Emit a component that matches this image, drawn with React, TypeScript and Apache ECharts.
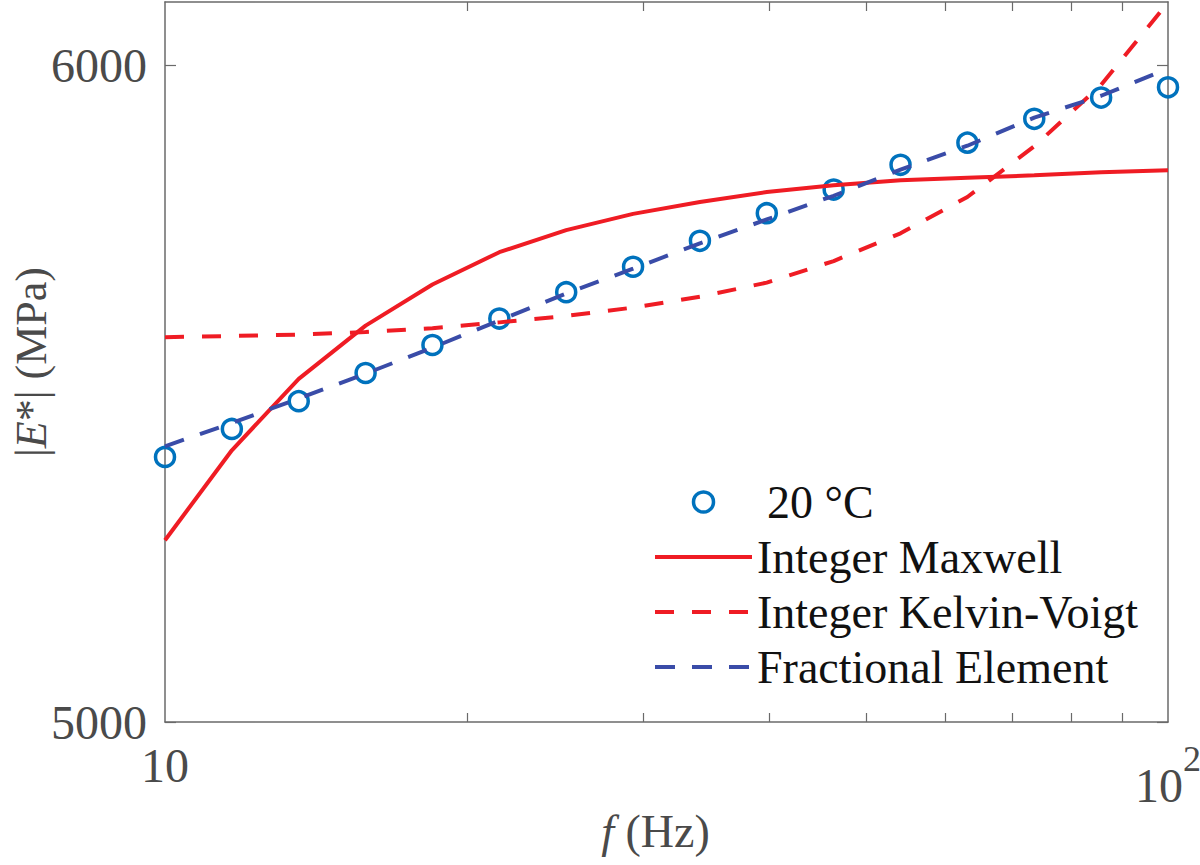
import { useEffect, useRef } from 'react';
import * as echarts from 'echarts';

// Frequencies (Hz), 15 per decade from 10 to 100 Hz
const frequencies = [10, 11.659, 13.594, 15.849, 18.478, 21.544, 25.119, 29.286, 34.145, 39.811, 46.416, 54.117, 63.096, 73.564, 85.77, 100];

// Dynamic modulus |E*| (MPa)
const measured20C = [5382, 5424, 5466, 5509, 5552, 5593, 5634, 5674, 5715, 5759, 5797, 5837, 5873, 5912, 5947, 5964];
const integerMaxwell = [5259, 5392, 5500, 5582, 5646, 5697, 5732, 5758, 5777, 5793, 5804, 5812, 5816, 5820, 5825, 5828];
const integerKelvinVoigt = [5564, 5566, 5568, 5572, 5578, 5587, 5597, 5610, 5627, 5649, 5683, 5727, 5785, 5867, 5968, 6106];
const fractionalElement = [5398, 5433, 5470, 5508, 5548, 5590, 5632, 5671, 5711, 5749, 5787, 5829, 5868, 5914, 5950, 5995];

// Axis ticks
const xMinorTicks = [20, 30, 40, 50, 60, 70, 80, 90];
const xTickLabels = [10, 100];
const yTicks = [5000, 6000];

const seriesNames = ['20 °C', 'Integer Maxwell', 'Integer Kelvin-Voigt', 'Fractional Element'];

const FONT = 'Liberation Serif';
const AXIS_COLOR = '#6a6a6a';
const LABEL_COLOR = '#4a4a4a';
const RED = '#EF1C24';
const NAVY = '#3A4CA8';
const BLUE = '#0072BD';

const KV_DASH = [19, 18];
const FE_DASH = [20, 17];

export default function App() {
  const ref = useRef<HTMLDivElement>(null);

  useEffect(() => {
    const chart = echarts.init(ref.current!, null, { renderer: 'svg' });
    const pairs = (ys: number[]) => frequencies.map((f, i) => [f, ys[i]]);

    const hiddenLabel = { show: false };
    const boxLine = { show: true, onZero: false, lineStyle: { color: AXIS_COLOR, width: 1.5 } };
    const noMarker = { color: 'rgba(0,0,0,0)', borderWidth: 0 };

    chart.setOption({
      animation: false,
      backgroundColor: '#ffffff',
      textStyle: { fontFamily: FONT },
      grid: { left: 165, right: 32, top: 2, bottom: 143, outerBoundsMode: 'none' },
      xAxis: [
        {
          type: 'log',
          logBase: 10,
          min: 10,
          max: 100,
          position: 'bottom',
          axisLine: boxLine,
          axisTick: { show: true, inside: true, length: 9, customValues: xMinorTicks, lineStyle: { color: AXIS_COLOR, width: 1.2 } },
          minorTick: { show: false },
          splitLine: { show: false },
          axisLabel: {
            show: true,
            customValues: xTickLabels,
            margin: 19,
            color: LABEL_COLOR,
            fontSize: 48,
            fontFamily: FONT,
            formatter: (v: number) => (v > 50 ? '{b|10}{s|2}' : '10'),
            rich: {
              b: { fontSize: 48, fontFamily: FONT, color: LABEL_COLOR, lineHeight: 66, verticalAlign: 'top', padding: [20, 0, 0, 0] },
              s: { fontSize: 36, fontFamily: FONT, color: LABEL_COLOR, lineHeight: 36, verticalAlign: 'top' },
            },
          },
          name: '{i|f} (Hz)',
          nameLocation: 'middle',
          nameGap: 86,
          nameMoveOverlap: false,
          nameTextStyle: {
            fontSize: 46,
            fontFamily: FONT,
            color: LABEL_COLOR,
            padding: [0, 22, 0, 0],
            rich: {
              i: { fontSize: 46, fontFamily: FONT, fontStyle: 'italic', color: LABEL_COLOR },
            },
          },
        },
        {
          type: 'log',
          logBase: 10,
          min: 10,
          max: 100,
          position: 'top',
          axisLine: boxLine,
          axisTick: { show: true, inside: true, length: 9, customValues: xMinorTicks, lineStyle: { color: AXIS_COLOR, width: 1.2 } },
          minorTick: { show: false },
          splitLine: { show: false },
          axisLabel: hiddenLabel,
        },
      ],
      yAxis: [
        {
          type: 'log',
          logBase: 10,
          min: 5000,
          max: 6107,
          position: 'left',
          axisLine: boxLine,
          axisTick: { show: true, inside: true, length: 11, customValues: yTicks, lineStyle: { color: AXIS_COLOR, width: 1.2 } },
          minorTick: { show: false },
          splitLine: { show: false },
          axisLabel: {
            show: true,
            customValues: yTicks,
            margin: 18,
            color: LABEL_COLOR,
            fontSize: 48,
            fontFamily: FONT,
            formatter: (v: number) => String(Math.round(v)),
          },
          name: '|{i|E}*| (MPa)',
          nameLocation: 'middle',
          nameGap: 112,
          nameMoveOverlap: false,
          nameTextStyle: {
            fontSize: 44,
            fontFamily: FONT,
            color: LABEL_COLOR,
            rich: {
              i: { fontSize: 44, fontFamily: FONT, fontStyle: 'italic', color: LABEL_COLOR },
            },
          },
        },
        {
          type: 'log',
          logBase: 10,
          min: 5000,
          max: 6107,
          position: 'right',
          axisLine: boxLine,
          axisTick: { show: true, inside: true, length: 11, customValues: yTicks, lineStyle: { color: AXIS_COLOR, width: 1.2 } },
          minorTick: { show: false },
          splitLine: { show: false },
          axisLabel: hiddenLabel,
        },
      ],
      legend: {
        orient: 'vertical',
        left: 648,
        top: 474,
        itemWidth: 97,
        itemHeight: 20,
        itemGap: 9,
        selectedMode: false,
        textStyle: {
          fontSize: 46,
          fontFamily: FONT,
          color: '#111111',
          rich: {
            pad: { fontSize: 46, fontFamily: FONT, color: '#111111', padding: [0, 0, 0, 10] },
          },
        },
        formatter: (name: string) => (name === seriesNames[0] ? `{pad|${name}}` : name),
        data: [
          { name: seriesNames[0], itemStyle: { color: 'rgba(0,0,0,0)', borderColor: BLUE, borderWidth: 3.5, opacity: 1 } },
          { name: seriesNames[1], itemStyle: noMarker, lineStyle: { color: RED, width: 4, type: 'solid' } },
          { name: seriesNames[2], itemStyle: noMarker, lineStyle: { color: RED, width: 4, type: KV_DASH } },
          { name: seriesNames[3], itemStyle: noMarker, lineStyle: { color: NAVY, width: 4, type: FE_DASH } },
        ],
      },
      series: [
        {
          name: seriesNames[0],
          type: 'scatter',
          data: pairs(measured20C),
          symbol: 'circle',
          symbolSize: 19,
          itemStyle: { color: 'rgba(0,0,0,0)', borderColor: BLUE, borderWidth: 3.5, opacity: 1 },
          z: 2,
        },
        {
          name: seriesNames[1],
          type: 'line',
          data: pairs(integerMaxwell),
          symbol: 'none',
          lineStyle: { color: RED, width: 4, type: 'solid' },
          itemStyle: { color: RED },
          z: 3,
        },
        {
          name: seriesNames[2],
          type: 'line',
          data: pairs(integerKelvinVoigt),
          symbol: 'none',
          lineStyle: { color: RED, width: 4, type: KV_DASH },
          itemStyle: { color: RED },
          z: 3,
        },
        {
          name: seriesNames[3],
          type: 'line',
          data: pairs(fractionalElement),
          symbol: 'none',
          lineStyle: { color: NAVY, width: 4, type: FE_DASH },
          itemStyle: { color: NAVY },
          z: 3,
        },
      ],
    });

    return () => chart.dispose();
  }, []);

  return (
    <div
      ref={ref}
      style={{ position: 'absolute', left: 0, top: 0, width: 1200, height: 865, background: '#ffffff' }}
    />
  );
}
